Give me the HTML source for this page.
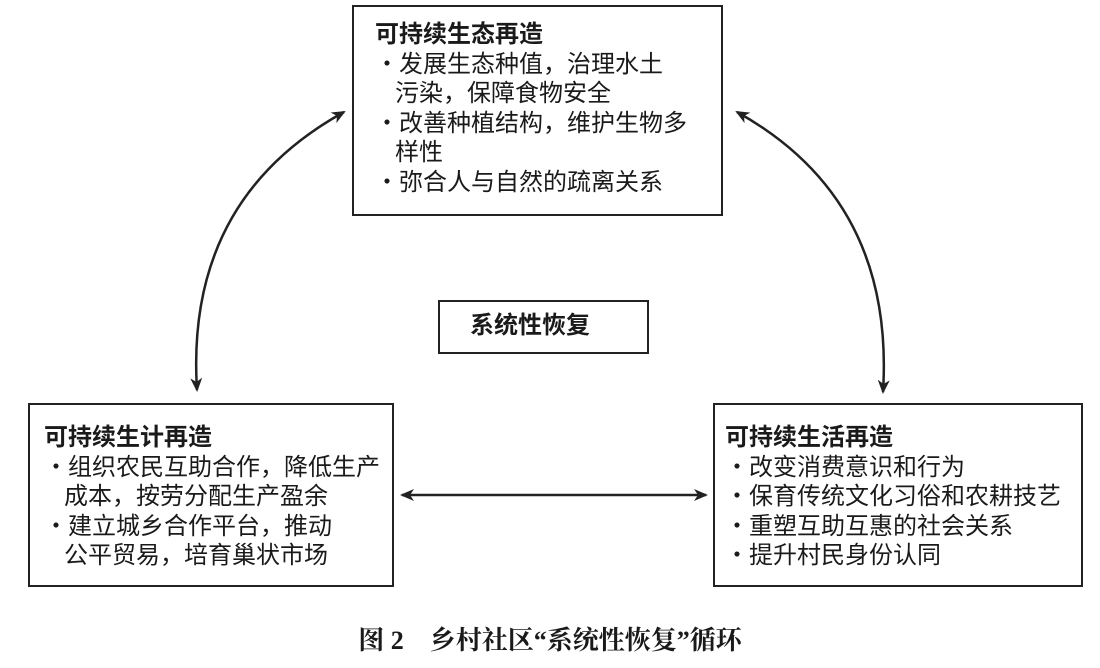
<!DOCTYPE html>
<html><head><meta charset="utf-8"><style>
html,body{margin:0;padding:0;background:#fff;}
body{width:1100px;height:668px;position:relative;overflow:hidden;font-family:"Liberation Sans","Noto Sans CJK SC",sans-serif;color:#1a1a1a;}
.box{position:absolute;border:2px solid #222;box-sizing:border-box;background:#fff;}
.t{position:absolute;font-size:24px;line-height:29.5px;white-space:nowrap;}
.b{font-weight:bold;}
</style></head><body>
<svg width="1100" height="668" style="position:absolute;left:0;top:0">
<defs><marker id="a" markerWidth="14" markerHeight="12" refX="12" refY="6" orient="auto-start-reverse" markerUnits="userSpaceOnUse"><path d="M0,0 L14,6 L0,12 L4,6 z" fill="#222"/></marker></defs>
<path d="M197,390 Q185,200 344,112" fill="none" stroke="#222" stroke-width="2.5" marker-start="url(#a)" marker-end="url(#a)"/>
<path d="M737,112 Q895,200 883,392" fill="none" stroke="#222" stroke-width="2.5" marker-start="url(#a)" marker-end="url(#a)"/>
<line x1="402" y1="495" x2="706" y2="495" stroke="#222" stroke-width="2.5" marker-start="url(#a)" marker-end="url(#a)"/>
</svg>
<div class="box" style="left:352px;top:5px;width:371px;height:211px"></div>
<div class="t" style="left:375px;top:20px"><span class="b">可持续生态再造</span><br>・发展生态种值，治理水土<br>&nbsp;&nbsp;&nbsp;污染，保障食物安全<br>・改善种植结构，维护生物多<br>&nbsp;&nbsp;&nbsp;样性<br>・弥合人与自然的疏离关系</div>
<div class="box" style="left:438px;top:300px;width:211px;height:54px"></div>
<div class="t b" style="left:470px;top:311px">系统性恢复</div>
<div class="box" style="left:28px;top:403px;width:366px;height:184px"></div>
<div class="t" style="left:44px;top:423px"><span class="b">可持续生计再造</span><br>・组织农民互助合作，降低生产<br>&nbsp;&nbsp;&nbsp;成本，按劳分配生产盈余<br>・建立城乡合作平台，推动<br>&nbsp;&nbsp;&nbsp;公平贸易，培育巢状市场</div>
<div class="box" style="left:713px;top:403px;width:370px;height:184px"></div>
<div class="t" style="left:725px;top:423px"><span class="b">可持续生活再造</span><br>・改变消费意识和行为<br>・保育传统文化习俗和农耕技艺<br>・重塑互助互惠的社会关系<br>・提升村民身份认同</div>
<div class="t b" style="left:0;width:1100px;text-align:center;top:626px;font-size:26px;font-family:'Liberation Serif','Noto Serif CJK SC',serif">图 2&nbsp;&nbsp;&nbsp;&nbsp;乡村社区“系统性恢复”循环</div>
</body></html>
